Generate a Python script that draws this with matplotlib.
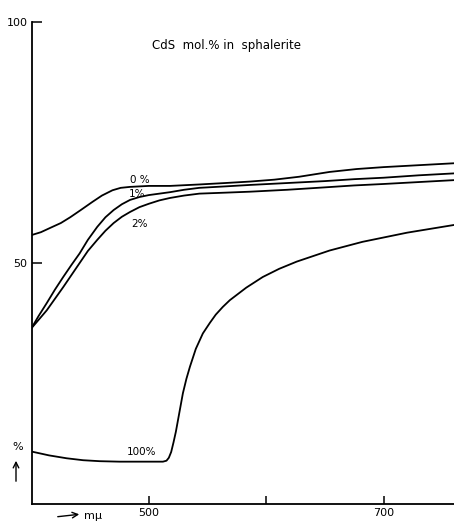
import matplotlib
matplotlib.use("Agg")
import matplotlib.pyplot as plt

# reflectance (%) vs wavelength (m\u03bc)
x_0 = [400, 408, 416, 425, 433, 442, 452, 460, 469, 476, 484, 500, 518, 543,
       565, 586, 607, 628, 641, 654, 677, 700, 730, 760]
y_0 = [55.8, 56.4, 57.3, 58.3, 59.5, 61.0, 62.7, 64.0, 65.1, 65.6, 65.8, 66.0,
       66.0, 66.3, 66.6, 66.9, 67.3, 67.9, 68.4, 68.9, 69.5, 69.9, 70.3, 70.7]

x_1 = [400, 406, 413, 420, 427, 434, 441, 448, 456, 463, 470, 477, 484, 492,
       500, 509, 518, 530, 543, 565, 586, 618, 650, 675, 700, 730, 760]
y_1 = [36.5, 39.0, 41.7, 44.5, 47.1, 49.6, 52.0, 54.8, 57.5, 59.5, 61.0, 62.2,
       63.1, 63.7, 64.1, 64.4, 64.7, 65.2, 65.6, 65.9, 66.2, 66.6, 67.0, 67.4,
       67.7, 68.2, 68.6]

x_2 = [400, 406, 413, 420, 427, 434, 441, 448, 456, 463, 470, 477, 484, 492,
       500, 509, 518, 530, 543, 565, 586, 618, 650, 675, 700, 730, 760]
y_2 = [36.5, 38.2, 40.2, 42.6, 45.0, 47.5, 50.0, 52.5, 54.8, 56.7, 58.3, 59.6,
       60.6, 61.6, 62.3, 63.0, 63.5, 64.0, 64.4, 64.6, 64.8, 65.2, 65.7, 66.1,
       66.4, 66.8, 67.2]

x_100 = [400, 415, 430, 444, 458, 475, 490, 505, 512, 515, 517, 519, 521, 523,
         526, 529, 532, 535, 540, 546, 552, 557, 563, 569, 583, 597, 611, 626,
         654, 682, 720, 760]
y_100 = [10.9, 10.1, 9.5, 9.1, 8.9, 8.8, 8.8, 8.8, 8.8, 9.0, 9.6, 10.8, 12.8,
         15.0, 19.0, 23.0, 26.0, 28.5, 32.2, 35.4, 37.6, 39.3, 40.9, 42.3, 44.9,
         47.1, 48.8, 50.3, 52.6, 54.4, 56.3, 57.9]

curve_labels = ["0 %", "1%", "2%", "100%"]
x_ticks = [500, 600, 700]
x_tick_labels = ["500", "", "700"]
y_ticks = [50, 100]
y_tick_labels = ["50", "100"]

fig = plt.figure(figsize=(4.54, 5.24), dpi=100)
ax = fig.add_axes([0.0694, 0.038, 0.9306, 0.92])

for xs, ys in [(x_0, y_0), (x_1, y_1), (x_2, y_2), (x_100, y_100)]:
    ax.plot(xs, ys, color="black", lw=1.3, solid_capstyle="round",
            solid_joinstyle="round")

ax.set_xlim(400, 760)
ax.set_ylim(0, 100)
ax.spines["top"].set_visible(False)
ax.spines["right"].set_visible(False)
ax.spines["left"].set_linewidth(1.3)
ax.spines["bottom"].set_linewidth(1.3)

ax.set_xticks(x_ticks)
ax.set_xticklabels(x_tick_labels, fontsize=8)
ax.set_yticks(y_ticks)
ax.set_yticklabels(y_tick_labels, fontsize=8)
ax.tick_params(axis="both", direction="in", length=7, width=1.1, pad=3)
ax.tick_params(axis="x", length=6, pad=3)

# curve labels
ax.text(492, 67.2, curve_labels[0], fontsize=7.5, ha="center", va="center")
ax.text(490, 64.3, curve_labels[1], fontsize=7.5, ha="center", va="center")
ax.text(492, 58.0, curve_labels[2], fontsize=7.5, ha="center", va="center")
ax.text(494, 10.9, curve_labels[3], fontsize=7.5, ha="center", va="center")

ax.text(566, 95.2, "CdS  mol.% in  sphalerite", fontsize=8.5, ha="center",
        va="center")

# axis hints outside the frame
fig.text(18 / 454, 1 - 447 / 524, "%", fontsize=8, ha="center", va="center")
ax.annotate("", xy=(16, 524 - 458), xytext=(16, 524 - 484),
            xycoords="figure pixels", textcoords="figure pixels",
            arrowprops=dict(arrowstyle="->", lw=1.0, color="black"))
ax.annotate("", xy=(82, 524 - 514), xytext=(55, 524 - 517),
            xycoords="figure pixels", textcoords="figure pixels",
            arrowprops=dict(arrowstyle="->", lw=1.0, color="black"))
fig.text(93 / 454, 1 - 516 / 524, "m\u03bc", fontsize=8, ha="center",
         va="center")

fig.savefig("out.png", dpi=100)
